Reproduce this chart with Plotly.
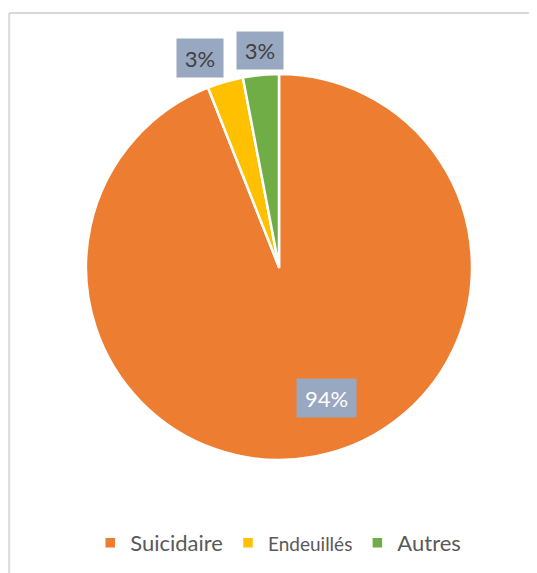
import plotly.graph_objects as go

# ─── Data ──────────────────────────────────────────────────────────────────────
labels = ["Suicidaire", "Endeuillés", "Autres"]
values = [94, 3, 3]
colors = ["#ED7D31", "#FFC000", "#70AD47"]

# legend text sizes differ per item in the original
legend_sizes = [22, 19, 22]

# data label boxes (paper coords), one per slice
label_pos = [(0.624, 0.161), (0.295, 1.041), (0.451, 1.062)]
label_font_color = ["#FFFFFF", "#404040", "#404040"]
label_box = [(59, 38), (46, 38), (46, 37)]

_FONT = "Lato, 'Open Sans', sans-serif"
_BOX = "#97A8C0"

fig = go.Figure(go.Pie(
    labels=[f'<span style="font-size:{s}px">{l}</span>' for l, s in zip(labels, legend_sizes)],
    values=values,
    marker=dict(colors=colors, line=dict(color="#FFFFFF", width=2.5)),
    sort=False,
    direction="clockwise",
    rotation=0,
    textinfo="none",
    hoverinfo="label+percent",
))

# data labels with grey-blue boxes, like the spreadsheet version
total = sum(values)
for v, (x, y), c, (w, h) in zip(values, label_pos, label_font_color, label_box):
    fig.add_annotation(
        text=f"{round(v / total * 100)}%",
        xref="paper", yref="paper",
        x=x, y=y, xanchor="center", yanchor="middle",
        showarrow=False,
        bgcolor=_BOX,
        width=w, height=h, borderpad=0,
        font=dict(size=22, color=c, family=_FONT),
    )

# chart frame (cropped on the right and bottom)
frame = dict(color="#D9D9D9", width=2)
fig.add_shape(type="line", xref="paper", yref="paper",
              x0=-0.199, y0=1.158, x1=1.3, y1=1.158, line=frame)
fig.add_shape(type="line", xref="paper", yref="paper",
              x0=-0.199, y0=1.158, x1=-0.199, y1=-0.4, line=frame)

fig.update_layout(
    width=537,
    height=573,
    paper_bgcolor="#FFFFFF",
    plot_bgcolor="#FFFFFF",
    margin=dict(l=78, r=73, t=66, b=121),
    font=dict(family=_FONT, color="#595959", size=22),
    showlegend=True,
    legend=dict(
        orientation="h",
        x=0.498, xanchor="center",
        y=-0.215, yanchor="middle",
        itemwidth=30,
        traceorder="normal",
        font=dict(size=22, color="#595959"),
    ),
)

fig.write_html("out.html")
